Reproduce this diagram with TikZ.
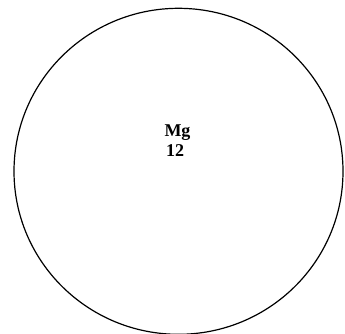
\documentclass[tikz,border=0pt]{standalone}
\usepackage{fontspec}
\setmainfont{Liberation Serif}
\usetikzlibrary{shapes.geometric}
\begin{document}
\begin{tikzpicture}[x=1pt,y=-1pt,
  lbl/.style={inner sep=0pt,anchor=base west,font=\fontsize{18}{20}\selectfont\bfseries}]
\useasboundingbox (0,0) rectangle (345,333);
\clip (0,0) rectangle (345,333);
\node[draw=black,line width=1.2pt,ellipse,minimum width=329pt,minimum height=326pt,inner sep=0pt] (atom) at (178.5,171.3) {};
\node[lbl] (mg) at (164.3,136.7) {Mg};
\node[lbl] (num) at (166,156.7) {12};
\end{tikzpicture}
\end{document}
